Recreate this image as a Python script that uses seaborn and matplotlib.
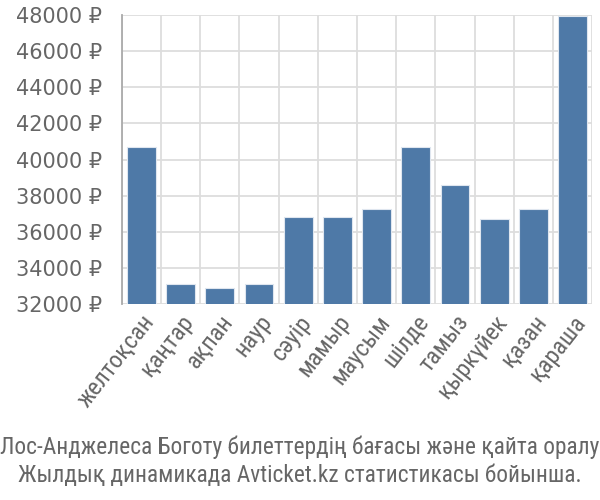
import numpy as np
import pandas as pd
import matplotlib
matplotlib.use("Agg")
import matplotlib.pyplot as plt
import seaborn as sns

months = ['желтоқсан', 'қаңтар', 'ақпан', 'наур', 'сәуір', 'мамыр',
          'маусым', 'шілде', 'тамыз', 'қыркүйек', 'қазан', 'қараша']
prices = [40700, 33100, 32900, 33100, 36800, 36800,
          37250, 40700, 38600, 36700, 37250, 47950]
y_ticks = list(range(32000, 48001, 2000))
caption = ['Лос-Анджелеса Боготу билеттердің бағасы және қайта оралу',
           'Жылдық динамикада Avticket.kz статистикасы бойынша.']

df = pd.DataFrame({'month': months, 'price': prices})

sns.set_style('white')
plt.rcParams['font.family'] = ['DejaVu Sans']
narrow = ['Roboto Condensed', 'DejaVu Sans']

fig = plt.figure(figsize=(6, 5), dpi=100)
ax = fig.add_axes([0.203, 0.392, 0.784, 0.578])

sns.barplot(data=df, x='month', y='price', color='#4e79a7', saturation=1,
            width=0.73, edgecolor='#dfe6ef', linewidth=0.8, ax=ax, zorder=3)

ax.set_ylim(32000, 48000)
ax.set_xlim(-0.5, len(months) - 0.5)
ax.set_yticks(y_ticks)
ax.set_yticklabels([f'{v} ₽' for v in y_ticks])

# category boundaries carry the grid, labels sit at centers
ax.set_xticks(np.arange(-0.5, len(months), 1.0))
ax.set_xticklabels([])
ax.set_xticks(np.arange(len(months)), minor=True)
ax.set_xticklabels(months, minor=True, rotation=52, ha='right',
                   rotation_mode='anchor', fontsize=17.5, color='#666666',
                   family=narrow)

ax.grid(True, which='major', color='#dddddd', linewidth=1.3, zorder=0)
ax.tick_params(axis='x', which='major', length=12, color='#dddddd', width=1.3)
ax.tick_params(axis='x', which='minor', length=0, pad=5)
ax.tick_params(axis='y', length=12, color='#dddddd', width=1.3,
               labelsize=15, labelcolor='#666666', pad=2)

for side in ['top', 'right', 'bottom']:
    ax.spines[side].set_visible(False)
ax.spines['left'].set_color('#aaaaaa')
ax.spines['left'].set_linewidth(1.3)
ax.set_xlabel('')
ax.set_ylabel('')

fig.text(0.5, 0.105, caption[0], ha='center', va='center', fontsize=16.8,
         color='#666666', family=narrow)
fig.text(0.5, 0.048, caption[1], ha='center', va='center', fontsize=16.8,
         color='#666666', family=narrow)

fig.savefig('out.png', dpi=100)
